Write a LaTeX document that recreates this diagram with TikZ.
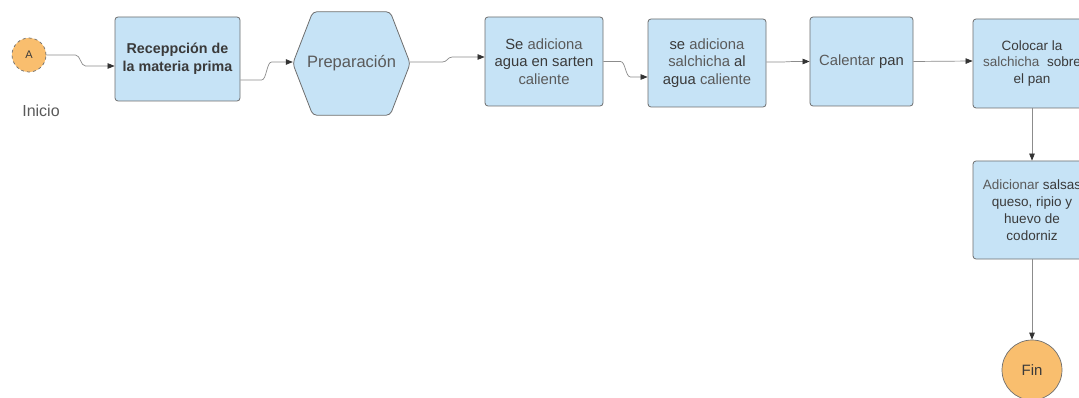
\documentclass[tikz,border=0pt]{standalone}
\usepackage{fontspec}
\setmainfont{Liberation Sans}
\usetikzlibrary{arrows.meta,calc}
\definecolor{boxfill}{HTML}{C6E3F6}
\definecolor{boxline}{HTML}{6E6E6E}
\definecolor{orangefill}{HTML}{F9BE6E}
\definecolor{txt}{HTML}{3A3A3A}
\definecolor{txtlight}{HTML}{5A5A5A}
\definecolor{conncol}{HTML}{8C8C8C}
\begin{document}
\begin{tikzpicture}[x=1pt,y=1pt,
  every node/.style={font=\fontsize{14.8}{17.5}\selectfont, text=txt},
  procbox/.style={draw=boxline, fill=boxfill, rounded corners=3pt, line width=0.8pt,
    inner sep=0pt, align=center},
  hexbox/.style={inner sep=0pt, align=center, minimum width=117, minimum height=103},
  termc/.style={circle, draw=boxline, fill=orangefill, inner sep=0pt, line width=0.7pt},
  conn/.style={draw=conncol, line width=0.7pt, -{Triangle[length=7pt,width=5.5pt,color=black!80]}},
  stepto/.style={to path={let \p1=(\tikztostart), \p2=(\tikztotarget) in
     -- ({(\x1+\x2)/2-5pt},\y1) .. controls ({(\x1+\x2)/2},\y1) and ({(\x1+\x2)/2},\y2) .. ({(\x1+\x2)/2+5pt},\y2) -- (\tikztotarget)}}
]
\useasboundingbox (0,0) rectangle (1079,-398);
\clip (0,0) rectangle (1079,-398);
\fill[white] (0,0) rectangle (1079,-398);

% start
\node[termc, dashed, minimum size=34, font=\fontsize{11}{13}\selectfont] (a) at (29,-55) {A};
\node[text=txtlight, font=\fontsize{16}{18}\selectfont] (ini) at (41,-111) {Inicio};

% boxes
\node[procbox, minimum width=125, minimum height=84, font=\bfseries\fontsize{14.3}{18}\selectfont] (b1) at (177.5,-59)
  {Receppción de\\la materia prima};

\node[hexbox, text=txtlight, font=\fontsize{16.5}{18}\selectfont] (hex) at (351.5,-63.5) {Preparación};
\draw[boxline, fill=boxfill, line width=0.8pt, rounded corners=4pt]
  (hex.west) -- ([xshift=20]hex.north west) -- ([xshift=-20]hex.north east) -- (hex.east)
  -- ([xshift=-20]hex.south east) -- ([xshift=20]hex.south west) -- cycle;
\node[hexbox, text=txtlight, font=\fontsize{16.5}{18}\selectfont] at (hex) {Preparación};

\node[procbox, minimum width=118, minimum height=89] (b3) at (544,-61.5)
  {Se \textcolor{txtlight}{adiciona}\\agua en sarten\\\textcolor{txtlight}{caliente}};

\node[procbox, minimum width=118, minimum height=88] (b4) at (707,-63)
  {se \textcolor{txtlight}{adiciona}\\\textcolor{txtlight}{salchicha} al\\agua \textcolor{txtlight}{caliente}};

\node[procbox, minimum width=103, minimum height=89] (b5) at (861.5,-61.5)
  {\textcolor{txtlight}{Calentar} pan};

\node[procbox, minimum width=118, minimum height=89, font=\fontsize{13.5}{16.5}\selectfont] (b6) at (1032,-63.5)
  {Colocar la\\\textcolor{txtlight}{salchicha}\ \ sobre\\el pan};

\node[procbox, minimum width=118, minimum height=98, font=\fontsize{13.5}{17}\selectfont] (b7) at (1032,-210)
  {\textcolor{txtlight}{Adicionar} salsas\\queso, ripio y\\huevo de\\codorniz};

% end
\node[termc, minimum size=60, font=\fontsize{15}{17}\selectfont] (fin) at (1032,-370) {Fin};

% connectors
\draw[conn] (a.east) to[stepto] ([yshift=-7]b1.west);
\draw[conn] ([yshift=-21]b1.east) to[stepto] ([yshift=1.5]hex.west);
\draw[conn] ([yshift=1.5]hex.east) to[stepto] ([yshift=4.5]b3.west);
\draw[conn] (b3.east) to[stepto] ([yshift=-14]b4.west);
\draw[conn] ([yshift=1]b4.east) to[stepto] (b5.west);
\draw[conn] (b5.east) -- ([yshift=2.5]b6.west);
\draw[conn] (b6.south) -- (b7.north);
\draw[conn] (b7.south) -- (fin.north);
\end{tikzpicture}
\end{document}
